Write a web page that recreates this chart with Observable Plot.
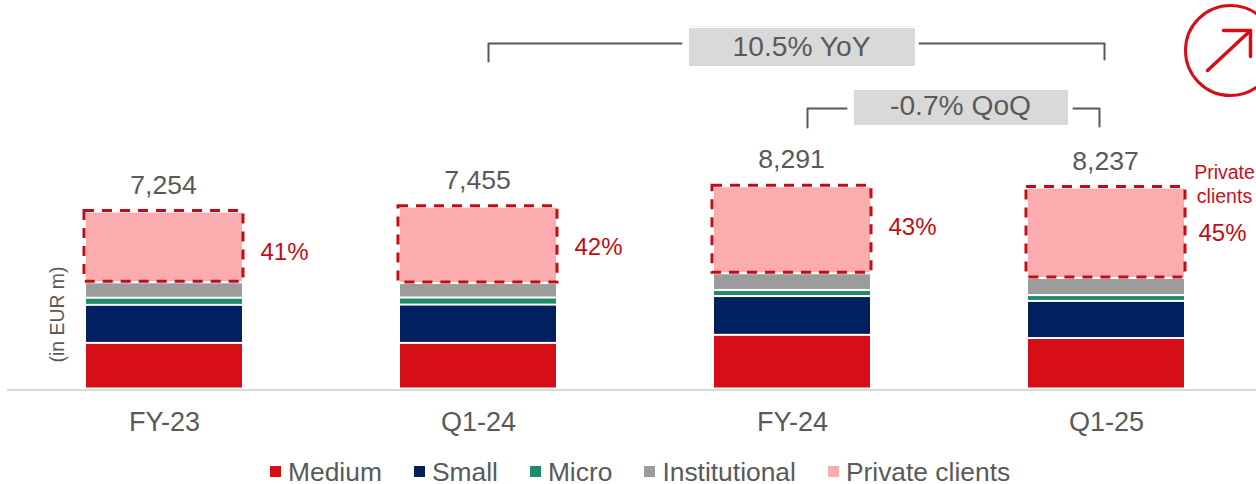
<!DOCTYPE html>
<html>
<head>
<meta charset="utf-8">
<script src="https://cdn.jsdelivr.net/npm/d3@7"></script>
<script src="https://cdn.jsdelivr.net/npm/@observablehq/plot@0.6"></script>
<style>
html,body{margin:0;padding:0;background:#fff;overflow:hidden}
#chart{position:relative;width:1256px;height:459px}
#chart svg{position:absolute;left:0;top:0}
#legend{display:flex;height:25px;padding-left:270px;gap:32px;font:26.4px "Liberation Sans",Arial,sans-serif;color:#595959;line-height:28px;white-space:nowrap}
#legend .item{display:flex;align-items:center;gap:7px}
#legend i{display:block;width:11px;height:11px}
svg text{font-family:"Liberation Sans",Arial,sans-serif}
</style>
</head>
<body>
<div id="chart"></div>
<div id="legend"></div>
<script>
const periods = ["FY-23", "Q1-24", "FY-24", "Q1-25"];
const seriesNames = ["Medium", "Small", "Micro", "Institutional", "Private clients"];
const seriesColors = ["#D50F15", "#00205F", "#1F8A6E", "#9C9C9C", "#FAACAE"];
const medium = [1870, 1870, 2200, 2070];
const small = [1560, 1570, 1590, 1520];
const micro = [290, 290, 250, 240];
const institutional = [634, 594, 686, 700];
const privateClients = [2900, 3131, 3565, 3707];
const totals = [7254, 7455, 8291, 8237];
const totalLabels = ["7,254", "7,455", "8,291", "8,237"];
const shares = ["41%", "42%", "43%", "45%"];

// layout of the annotations (not data)
const shareAt = [5597, 5801, 6622, 6375];
const shareDx = [120, 120, 120, 116];
const boxes = [
  {x1: 689, x2: 915, y1: 28, y2: 66, label: "10.5% YoY", cy: 46},
  {x1: 854, x2: 1068, y1: 90, y2: 125, label: "-0.7% QoQ", cy: 105.5}
];
const brackets = [
  [[488, 61], [488, 43], [681, 43]],
  [[919, 43], [1104, 43], [1104, 59]],
  [[807, 127], [807, 108], [846, 108]],
  [[1073, 108], [1099, 108], [1099, 126]]
];
const arrowParts = [
  [[1207, 70], [1250, 30]],
  [[1223, 30], [1250, 30], [1250, 56]]
];

const serial = [medium, small, micro, institutional, privateClients];
const rows = seriesNames.flatMap((s, i) => periods.map((p, j) => ({period: p, series: s, value: serial[i][j]})));
const tops = periods.map((p, j) => ({period: p, total: totals[j], label: totalLabels[j], share: shares[j], at: shareAt[j], dx: shareDx[j], base: totals[j] - privateClients[j]}));

const GREY = "#595959", RED = "#C8101A";

const plot = Plot.plot({
  width: 1256,
  height: 459,
  marginTop: 0, marginBottom: 70, marginLeft: 0, marginRight: 0,
  style: {background: "transparent"},
  x: {type: "band", domain: periods, range: [7, 1263], paddingInner: 0.503, paddingOuter: 0.2515, axis: null},
  y: {domain: [0, 388.5 * 41], range: [388.5, 0], axis: null},
  color: {domain: seriesNames, range: seriesColors},
  marks: [
    Plot.barY(rows, {x: "period", y: "value", fill: "series", order: seriesNames, insetTop: 1, insetBottom: 1}),
    Plot.barY(tops, {x: "period", y1: "base", y2: "total", fill: "none", stroke: "#C00D17", strokeWidth: 3, strokeDasharray: "10 8", insetLeft: -2, insetRight: -1, insetTop: -1, insetBottom: 1}),
    Plot.text(tops, {x: "period", y: "total", text: "label", dx: -1, dy: -27, fontSize: 26.6, fill: GREY}),
    ...tops.map(t => Plot.text([t], {x: "period", y: "at", text: "share", dx: t.dx, fontSize: 24, fill: "#C00D17"})),
    Plot.axisX({anchor: "bottom", tickSize: 0, tickPadding: 22, fontSize: 27, color: GREY, label: null})
  ]
});

// annotation layer: its scales are the page's own pixels
const overlay = Plot.plot({
  width: 1256,
  height: 459,
  marginTop: 0, marginBottom: 0, marginLeft: 0, marginRight: 0,
  style: {background: "transparent"},
  x: {domain: [0, 1256], range: [0, 1256], axis: null},
  y: {domain: [0, 459], range: [0, 459], axis: null},
  marks: [
    Plot.ruleY([389.5], {x1: 7, x2: 1256, stroke: "#D9D9D9", strokeWidth: 2}),
    Plot.text(["(in EUR m)"], {x: 57, y: 314, text: d => d, rotate: -90, fontSize: 19.4, fill: GREY}),
    Plot.text(["Private\nclients"], {x: 1224, y: 182.5, text: d => d, fontSize: 19.5, lineHeight: 1.28, fill: RED}),
    ...brackets.map(b => Plot.line(b, {x: d => d[0], y: d => d[1], stroke: GREY, strokeWidth: 2, curve: "linear"})),
    Plot.rect(boxes, {x1: "x1", x2: "x2", y1: "y1", y2: "y2", fill: "#D9D9D9"}),
    Plot.ruleY([26], {x1: 689, x2: 918, stroke: "#F0F0F0", strokeWidth: 1}),
    Plot.text(boxes, {x: d => (d.x1 + d.x2) / 2 - 1, y: "cy", text: "label", fontSize: 28.2, fill: GREY}),
    Plot.dot([[1230, 50]], {x: d => d[0], y: d => d[1], r: 45, fill: "none", stroke: "#D50F15", strokeWidth: 3}),
    ...arrowParts.map(a => Plot.line(a, {x: d => d[0], y: d => d[1], stroke: "#D50F15", strokeWidth: 3.5, strokeLinecap: "round", curve: "linear"}))
  ]
});
document.getElementById("chart").append(plot, overlay);

const legend = document.getElementById("legend");
seriesNames.forEach((s, i) => {
  const item = document.createElement("div");
  item.className = "item";
  const sw = document.createElement("i");
  sw.style.background = seriesColors[i];
  const t = document.createElement("span");
  t.textContent = s;
  item.append(sw, t);
  legend.append(item);
});
</script>
</body>
</html>
